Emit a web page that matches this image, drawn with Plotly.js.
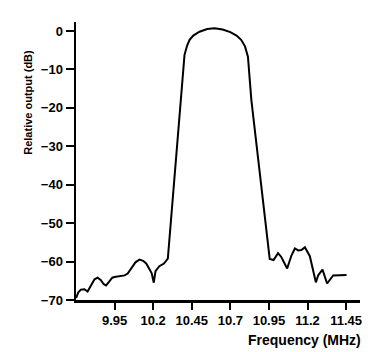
<!DOCTYPE html>
<html>
<head>
<meta charset="utf-8">
<script src="https://cdn.plot.ly/plotly-3.0.1.min.js"></script>
<style>html,body{margin:0;padding:0;background:#fff;}#chart{width:375px;height:352px;}</style>
</head>
<body>
<div id="chart"></div>
<script>
// Frequency (MHz)
const freq = [
  9.700, 9.715, 9.732, 9.754, 9.775, 9.800, 9.820, 9.840, 9.860, 9.880, 9.895,
  9.915, 9.935, 9.949, 9.970, 9.992, 10.015, 10.035, 10.060, 10.085, 10.111,
  10.135, 10.155, 10.175, 10.190, 10.204, 10.215, 10.240, 10.270, 10.295,
  10.338, 10.403, 10.420, 10.436, 10.460, 10.500, 10.550, 10.598, 10.650,
  10.700, 10.740, 10.770, 10.795, 10.814, 10.836, 10.890, 10.955,
  10.980, 11.009, 11.030, 11.068, 11.095, 11.118, 11.140, 11.160, 11.183,
  11.215, 11.254, 11.270, 11.297, 11.327, 11.366, 11.400, 11.453
];
// Relative output (dB)
const relOut = [
  -69.5, -68.0, -67.3, -67.2, -67.8, -66.0, -64.6, -64.2, -64.8, -65.9, -66.2,
  -65.2, -64.2, -64.0, -63.9, -63.9, -63.6, -63.1, -61.6, -60.2, -59.5,
  -59.8, -60.5, -61.8, -63.0, -65.5, -62.5, -61.2, -60.5, -59.2,
  -38.7, -6.2, -3.8, -2.3, -1.2, -0.2, 0.5, 0.7, 0.4,
  -0.3, -1.2, -2.3, -4.0, -6.7, -17.9, -36.0, -59.3,
  -59.6, -57.8, -58.8, -61.8, -58.5, -56.6, -57.1, -57.0, -56.3,
  -58.6, -65.4, -63.5, -62.1, -65.7, -63.6, -63.5, -63.5
];
const xTicks = [9.95, 10.2, 10.45, 10.7, 10.95, 11.2, 11.45];
const xTickText = ['9.95', '10.2', '10.45', '10.7', '10.95', '11.2', '11.45'];
const yTicks = [0, -10, -20, -30, -40, -50, -60, -70];
const yTickText = ['0', '\u221210', '\u221220', '\u221230', '\u221240', '\u221250', '\u221260', '\u221270'];

const fontFam = 'Arial, "Liberation Sans", Helvetica, sans-serif';

Plotly.newPlot('chart', [{
  x: freq, y: relOut, type: 'scatter', mode: 'lines',
  line: {color: '#000', width: 2, shape: 'linear'},
  hoverinfo: 'none'
}], {
  width: 375, height: 352,
  margin: {l: 76, r: 15, t: 22, b: 52, pad: 0},
  paper_bgcolor: '#fff', plot_bgcolor: '#fff',
  showlegend: false,
  font: {family: fontFam, color: '#000', size: 13, weight: 700},
  xaxis: {
    range: [9.7, 11.54], showgrid: false, zeroline: false,
    showline: true, linecolor: '#000', linewidth: 2.5,
    ticks: 'outside', ticklen: 7, tickwidth: 2, tickcolor: '#000',
    tickvals: xTicks, ticktext: xTickText,
    tickfont: {family: fontFam, size: 13, color: '#000', weight: 700},
    title: {text: ''}
  },
  yaxis: {
    range: [-70, 2.34], showgrid: false, zeroline: false,
    showline: true, linecolor: '#000', linewidth: 2.5,
    ticks: 'outside', ticklen: 8, tickwidth: 2, tickcolor: '#000',
    tickvals: yTicks, ticktext: yTickText,
    tickfont: {family: fontFam, size: 13, color: '#000', weight: 700},
    title: {text: ''}
  },
  annotations: [
    {text: 'Frequency (MHz)', xref: 'paper', yref: 'paper', x: 1.01, y: -0.145,
     xanchor: 'right', yanchor: 'middle', showarrow: false,
     font: {family: fontFam, size: 14, color: '#000', weight: 700}},
    {text: 'Relative output (dB)', xref: 'paper', yref: 'paper', x: -0.172, y: 0.71,
     xanchor: 'center', yanchor: 'middle', textangle: -90, showarrow: false,
     font: {family: fontFam, size: 11, color: '#000', weight: 700}}
  ]
}, {staticPlot: true, displayModeBar: false});
</script>
</body>
</html>
